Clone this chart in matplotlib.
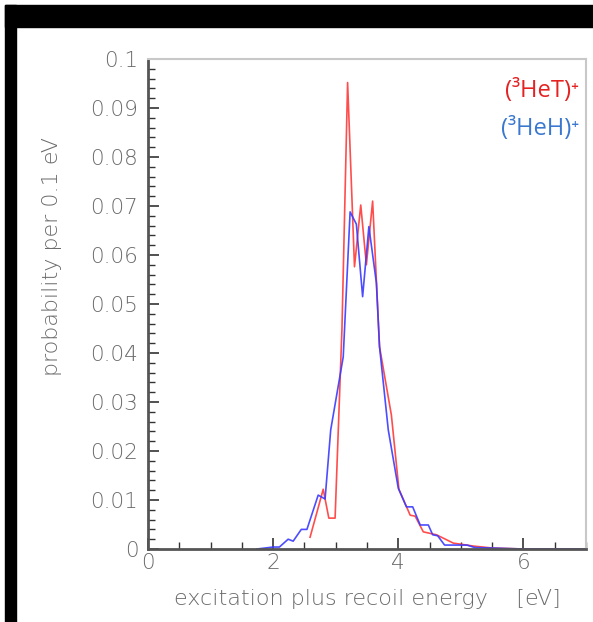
import matplotlib
matplotlib.use("Agg")
import matplotlib.pyplot as plt
from matplotlib.patches import Rectangle
from matplotlib.ticker import MultipleLocator

# (3HeT)+ spectrum
het_x = [2.59, 2.70, 2.80, 2.89, 2.99, 3.10, 3.19, 3.30, 3.40, 3.49, 3.59, 3.70,
         3.89, 4.01, 4.19, 4.27, 4.40, 4.61, 4.88, 5.20, 5.50, 6.00, 7.00]
het_y = [0.0024, 0.0075, 0.0122, 0.0063, 0.0063, 0.045, 0.0952, 0.0576, 0.0702,
         0.058, 0.071, 0.0413, 0.0273, 0.0122, 0.0069, 0.0067, 0.0035, 0.0029,
         0.0012, 0.0006, 0.0002, 0.0, 0.0]

# (3HeH)+ spectrum
heh_x = [1.74, 2.00, 2.10, 2.24, 2.32, 2.45, 2.54, 2.72, 2.83, 2.92, 3.12, 3.23,
         3.33, 3.43, 3.53, 3.65, 3.70, 3.84, 4.00, 4.13, 4.23, 4.35, 4.48, 4.55,
         4.63, 4.74, 5.10, 5.22, 6.00, 7.00]
heh_y = [0.0, 0.0004, 0.0004, 0.002, 0.0016, 0.004, 0.004, 0.011, 0.0102, 0.0243,
         0.0392, 0.0688, 0.0663, 0.0515, 0.0658, 0.0543, 0.0413, 0.0243, 0.0124,
         0.0086, 0.0086, 0.0049, 0.0049, 0.0029, 0.0027, 0.0008, 0.0008, 0.0003,
         0.0, 0.0]

xticks = [0, 2, 4, 6]
yticks = [0, 0.01, 0.02, 0.03, 0.04, 0.05, 0.06, 0.07, 0.08, 0.09, 0.1]
ytick_labels = ["0", "0.01", "0.02", "0.03", "0.04", "0.05", "0.06", "0.07",
                "0.08", "0.09", "0.1"]

plt.rcParams["font.family"] = ["DejaVu Sans"]
plt.rcParams["font.weight"] = 200
gray = "#6a6a6a"

fig = plt.figure(figsize=(5.93, 6.22), dpi=100)
W, H = 593, 622

# black frame bands of the screenshot
fig.patches.append(Rectangle((5 / W, 1 - 27 / H), 1, 22 / H, transform=fig.transFigure,
                             color="black", zorder=0))
fig.patches.append(Rectangle((5 / W, 0), 11 / W, 1 - 5 / H, transform=fig.transFigure,
                             color="black", zorder=0))

ax = fig.add_axes([148 / W, 73 / H, 438 / W, 490 / H])
ax.plot(het_x, het_y, color="#ff3a3a", lw=1.2, alpha=0.9)
ax.plot(heh_x, heh_y, color="#3a3aff", lw=1.2, alpha=0.9)

ax.set_xlim(0, 7)
ax.set_ylim(0, 0.1)
ax.set_xticks(xticks)
ax.set_xticklabels([str(t) for t in xticks])
ax.set_yticks(yticks)
ax.set_yticklabels(ytick_labels)
ax.xaxis.set_minor_locator(MultipleLocator(0.5))
ax.yaxis.set_minor_locator(MultipleLocator(0.002))
ax.tick_params(which="both", direction="in", top=False, right=False, color="#333333")
ax.tick_params(which="major", length=8, width=1.2, labelsize=15.5, labelcolor=gray, pad=7)
ax.tick_params(which="minor", length=5, width=1.0)
ax.tick_params(axis="x", which="major", pad=3)

for s in ["left", "bottom"]:
    ax.spines[s].set_color("#555555")
    ax.spines[s].set_linewidth(2)
for s in ["top", "right"]:
    ax.spines[s].set_color("#c8c8c8")
    ax.spines[s].set_linewidth(1.5)

ax.set_ylabel("probability per 0.1 eV", fontsize=16, color=gray, weight=200)
ax.yaxis.set_label_coords(-0.196, 0.596)
ax.set_xlabel("excitation plus recoil energy    [eV]", fontsize=16, color=gray, weight=200)
ax.xaxis.set_label_coords(0.5, -0.082)

ax.text(0.985, 0.935, "(³HeT)⁺", transform=ax.transAxes, ha="right", va="center",
        fontsize=17, color="#e52222", family="Open Sans", weight="normal")
ax.text(0.985, 0.858, "(³HeH)⁺", transform=ax.transAxes, ha="right", va="center",
        fontsize=17, color="#3a78d0", family="Open Sans", weight="normal")

fig.savefig("out.png", dpi=100)
